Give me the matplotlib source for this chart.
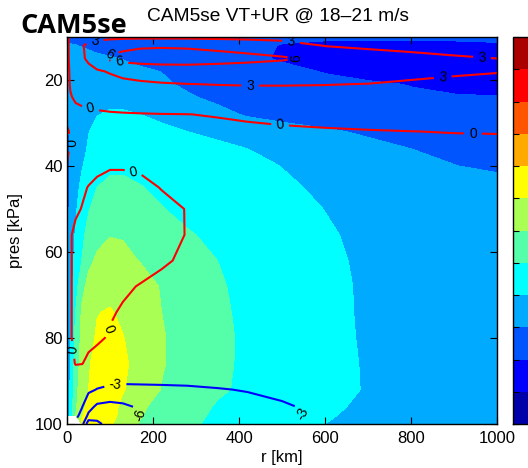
import numpy as np
import matplotlib
matplotlib.use("Agg")
import matplotlib.pyplot as plt
from matplotlib.colors import ListedColormap, BoundaryNorm
from matplotlib.cm import ScalarMappable

# Radius (km) and pressure (kPa) grid of the composite
r_km = [0, 8, 20, 35, 50, 70, 100, 130, 170, 220, 280, 350, 420, 500, 600, 700, 800, 900, 1000]
pres_kpa = [10, 12, 15, 18, 21, 24, 28, 32, 36, 40, 45, 50, 56, 62, 68, 74, 80, 86, 92, 96, 98, 100]

nan = np.nan

# Tangential wind VT (m/s), one row per pressure level
vt_ms = [
    [2.6, 2.6, 2.5, 2.4, 2.3, 2.1, 1.9, 1.6, 1.3, 1.0, 0.7, 0.5, 0.35, 0.2, 0.4, 0.5, 0.5, 0.5, 0.5],
    [2.8, 3.1, 3.05, 2.9, 2.7, 2.4, 2.1, 1.8, 1.5, 1.1, 0.8, 0.5, 0.3, -0.05, -0.5, -0.7, -0.8, -0.6, -0.3],
    [2.8, 3.3, 3.6, 3.7, 3.6, 3.4, 3.2, 2.9, 2.4, 1.9, 1.4, 0.9, 0.4, -0.2, -0.8, -1.2, -1.4, -1.5, -1.5],
    [2.8, 3.3, 3.8, 4.1, 4.2, 4.2, 4.1, 3.8, 3.4, 2.95, 2.4, 1.7, 1.0, 0.5, -0.1, -0.5, -0.8, -1.0, -1.1],
    [2.8, 3.3, 3.8, 4.2, 4.5, 4.6, 4.6, 4.4, 4.0, 3.4, 2.6, 1.8, 1.2, 0.8, 0.5, 0.2, -0.05, -0.3, -0.5],
    [2.8, 3.3, 3.6, 3.9, 4.5, 5.0, 5.3, 5.2, 4.7, 3.9, 3.3, 2.4, 1.6, 1.0, 0.6, 0.35, 0.2, 0.1, 0.05],
    [2.7, 3.4, 3.8, 4.5, 5.3, 5.9, 6.3, 6.3, 6.0, 5.4, 4.7, 3.8, 2.7, 2.0, 1.4, 1.2, 1.0, 0.8, 0.6],
    [2.6, 3.3, 3.8, 4.9, 5.9, 6.8, 7.3, 7.3, 7.0, 6.6, 6.0, 5.5, 4.9, 4.2, 3.4, 2.6, 2.1, 1.8, 1.5],
    [2.5, 3.3, 4.1, 5.2, 6.3, 7.3, 8.0, 8.1, 7.8, 7.4, 6.9, 6.5, 6.0, 5.4, 4.6, 3.8, 3.0, 2.5, 2.1],
    [2.4, 3.2, 4.5, 5.8, 7.0, 8.0, 8.6, 8.7, 8.4, 8.0, 7.5, 7.1, 6.7, 5.95, 5.2, 4.4, 3.6, 3.05, 2.6],
    [2.3, 3.3, 5.0, 6.8, 8.1, 9.0, 9.5, 9.4, 9.1, 8.6, 8.0, 7.6, 7.2, 6.4, 5.6, 5.0, 4.6, 4.3, 3.9],
    [2.2, 3.6, 5.6, 7.5, 8.8, 10.1, 10.8, 10.7, 10.2, 9.1, 8.4, 7.9, 7.5, 7.0, 5.95, 5.1, 4.7, 4.4, 4.0],
    [2.2, 4.0, 6.3, 8.3, 10.0, 11.3, 11.9, 11.8, 11.3, 10.5, 9.2, 8.5, 7.9, 7.3, 6.35, 5.3, 4.9, 4.5, 4.1],
    [2.3, 4.4, 6.9, 9.1, 11.4, 12.4, 12.9, 12.7, 11.9, 11.0, 10.1, 9.0, 8.0, 7.5, 6.7, 5.4, 5.0, 4.6, 4.2],
    [2.5, 4.8, 7.8, 11.2, 12.8, 13.8, 14.2, 14.0, 13.2, 11.8, 10.6, 9.4, 8.1, 7.6, 6.9, 5.5, 5.0, 4.6, 4.2],
    [2.7, 5.2, 9.0, 12.5, 13.8, 14.9, 15.2, 14.5, 13.4, 12.0, 10.9, 9.6, 8.3, 7.8, 7.0, 5.5, 5.0, 4.6, 4.2],
    [3.2, 5.5, 10.0, 12.8, 14.2, 15.3, 15.8, 15.1, 13.9, 12.2, 11.0, 9.8, 8.4, 8.0, 7.0, 5.6, 5.1, 4.7, 4.3],
    [3.5, 6.0, 10.5, 13.2, 14.7, 16.0, 16.4, 15.5, 14.0, 12.2, 10.9, 9.6, 8.5, 8.0, 7.1, 5.7, 5.1, 4.7, 4.3],
    [4.0, 6.5, 11.0, 13.8, 15.0, 16.6, 16.5, 15.2, 13.6, 11.9, 10.6, 9.3, 8.6, 7.8, 6.9, 5.8, 5.1, 4.7, 4.3],
    [4.0, 7.0, 11.5, 14.2, 15.8, 16.8, 16.2, 14.3, 12.5, 11.0, 9.9, 8.8, 8.0, 7.3, 6.4, 5.6, 5.0, 4.6, 4.2],
    [4.0, 7.2, 12.0, 14.8, 16.0, 16.8, 16.0, 14.1, 12.2, 10.8, 9.7, 8.6, 7.8, 7.1, 6.2, 5.5, 4.9, 4.5, 4.1],
    [nan, nan, nan, 15.5, 16.5, 16.8, 15.3, 13.8, 11.8, 10.6, 9.5, 8.4, 7.6, 6.9, 6.0, 5.3, 4.8, 4.4, 4.0],
]

# Radial wind UR (m/s), same grid
ur_ms = [
    [-0.5, 0.5, 1.2, 1.8, 2.0, 2.2, 2.3, 2.4, 2.4, 2.4, 2.4, 2.3, 2.2, 2.0, 1.8, 1.6, 1.4, 1.2, 1.1],
    [-0.5, 0.6, 1.6, 2.8, 3.6, 4.2, 4.8, 5.2, 5.6, 5.7, 5.6, 5.3, 4.9, 4.3, 2.9, 2.4, 2.0, 1.7, 1.5],
    [-0.5, 0.5, 1.5, 2.6, 3.5, 4.8, 6.5, 7.0, 7.3, 7.4, 7.3, 7.0, 6.7, 6.3, 5.4, 4.6, 4.0, 3.4, 3.0],
    [-0.6, 0.3, 1.0, 1.6, 2.2, 2.7, 3.2, 3.7, 4.1, 4.4, 4.6, 4.6, 4.5, 4.4, 4.2, 4.0, 3.6, 3.3, 3.1],
    [-0.7, 0.2, 0.7, 1.1, 1.4, 1.8, 2.1, 2.4, 2.6, 2.8, 2.95, 3.05, 3.1, 3.1, 3.05, 2.95, 2.7, 2.5, 2.3],
    [-0.8, -0.15, 0.3, 0.55, 0.7, 0.9, 1.1, 1.3, 1.5, 1.7, 1.9, 2.0, 2.1, 2.15, 2.2, 2.2, 2.1, 2.0, 1.9],
    [-0.9, -0.8, -0.6, -0.5, -0.4, -0.3, -0.2, -0.15, -0.1, -0.05, -0.02, 0.1, 0.3, 0.5, 0.7, 0.85, 0.95, 1.0, 1.0],
    [0.4, -0.3, -0.9, -1.0, -1.0, -0.9, -0.8, -0.7, -0.6, -0.55, -0.5, -0.45, -0.4, -0.3, -0.2, -0.1, -0.02, 0.05, 0.08],
    [0.4, -0.3, -1.0, -1.2, -1.2, -1.1, -1.0, -0.9, -0.8, -0.75, -0.7, -0.65, -0.6, -0.55, -0.5, -0.5, -0.5, -0.5, -0.5],
    [-0.05, -0.4, -0.8, -0.7, -0.5, -0.3, -0.1, -0.1, -0.2, -0.4, -0.6, -0.7, -0.7, -0.65, -0.6, -0.6, -0.6, -0.6, -0.6],
    [-0.5, -0.6, -0.5, -0.2, 0.05, 0.3, 0.45, 0.45, 0.35, -0.05, -0.4, -0.6, -0.7, -0.7, -0.65, -0.6, -0.6, -0.6, -0.6],
    [-0.5, -0.5, -0.2, 0.05, 0.3, 0.5, 0.6, 0.6, 0.5, 0.35, -0.05, -0.5, -0.6, -0.6, -0.6, -0.6, -0.6, -0.6, -0.6],
    [-0.5, -0.1, 0.3, 0.5, 0.6, 0.7, 0.7, 0.7, 0.6, 0.4, -0.05, -0.5, -0.6, -0.6, -0.6, -0.6, -0.6, -0.6, -0.6],
    [-0.5, -0.1, 0.3, 0.5, 0.6, 0.6, 0.6, 0.5, 0.4, 0.15, -0.2, -0.5, -0.6, -0.6, -0.6, -0.6, -0.6, -0.6, -0.6],
    [-0.5, -0.1, 0.3, 0.4, 0.45, 0.4, 0.3, 0.15, -0.05, -0.3, -0.5, -0.6, -0.6, -0.6, -0.6, -0.6, -0.6, -0.6, -0.6],
    [-0.5, -0.1, 0.3, 0.35, 0.35, 0.3, 0.1, -0.1, -0.3, -0.5, -0.6, -0.6, -0.6, -0.6, -0.6, -0.6, -0.6, -0.6, -0.6],
    [-0.5, -0.1, 0.3, 0.3, 0.25, 0.15, -0.1, -0.3, -0.5, -0.6, -0.7, -0.7, -0.7, -0.7, -0.7, -0.7, -0.7, -0.7, -0.7],
    [-0.6, -0.3, 0.05, 0.02, -0.2, -0.4, -0.6, -0.8, -1.0, -1.2, -1.3, -1.4, -1.5, -1.6, -1.6, -1.6, -1.5, -1.5, -1.4],
    [-1.0, -1.0, -1.2, -1.8, -2.5, -3.1, -3.5, -3.6, -3.5, -3.4, -3.3, -3.1, -2.9, -2.6, -2.2, -1.9, -1.7, -1.6, -1.5],
    [-1.5, -1.5, -2.0, -2.9, -5.0, -6.6, -7.0, -6.6, -5.6, -4.8, -4.3, -3.9, -3.6, -3.2, -2.6, -2.2, -1.9, -1.7, -1.6],
    [-1.8, -1.8, -2.3, -3.8, -6.5, -8.0, -7.6, -7.0, -6.0, -5.0, -4.4, -4.0, -3.7, -3.3, -2.7, -2.3, -2.0, -1.8, -1.7],
    [nan, nan, nan, -5.0, -11.0, -9.6, -8.0, -7.2, -5.9, -5.2, -4.5, -4.0, -3.7, -3.2, -2.8, -2.4, -2.1, -1.9, -1.8],
]

vt_levels = [-6, -3, 0, 3, 6, 9, 12, 15, 18, 21, 24, 27, 30]
ur_pos_levels = [0, 3, 6]
ur_neg_levels = [-9, -6, -3]

x_ticks = [0, 200, 400, 600, 800, 1000]
y_ticks = [20, 40, 60, 80, 100]

# 12-colour jet palette
jet12 = ["#0000AA", "#0000FF", "#0055FF", "#00AAFF", "#00FFFF", "#55FFAA",
         "#AAFF55", "#FFFF00", "#FFAA00", "#FF5500", "#FF0000", "#AA0000"]

pos_labels = [(65, 11.2), (520, 12.0), (965, 14.6), (426, 21.2), (874, 19.6),
              (93, 12.8), (121, 16.3), (540, 15.3),
              (55, 26.5), (496, 30.0), (944, 32.3), (6, 34.6),
              (154, 41.6), (100, 78.0), (12, 82.8)]
neg_labels = [(112, 90.5), (550, 97.5), (185, 97.0)]

plt.rcParams['font.family'] = ['Liberation Sans', 'DejaVu Sans']

W, H = 528, 468
fig = plt.figure(figsize=(W / 100, H / 100), dpi=100)
ax = fig.add_axes([67 / W, 1 - 424 / H, 430 / W, 387 / H])

cmap = ListedColormap(jet12)
norm = BoundaryNorm(vt_levels, cmap.N)

R, P = np.meshgrid(np.array(r_km, float), np.array(pres_kpa, float))
vt = np.ma.masked_invalid(np.array(vt_ms, float))
ur = np.ma.masked_invalid(np.array(ur_ms, float))

ax.contourf(R, P, vt, levels=vt_levels, cmap=cmap, norm=norm)
cs_pos = ax.contour(R, P, ur, levels=ur_pos_levels, colors="#FF0000",
                    linewidths=1.5, linestyles="solid")
cs_neg = ax.contour(R, P, ur, levels=ur_neg_levels, colors="#0000FF",
                    linewidths=1.5, linestyles="solid")
ax.clabel(cs_pos, fmt="%d", fontsize=10, colors="k", inline=True, manual=pos_labels)
ax.clabel(cs_neg, fmt="%d", fontsize=10, colors="k", inline=True, manual=neg_labels)

ax.set_xlim(0, 1000)
ax.set_ylim(100, 10)
ax.set_xticks(x_ticks)
ax.set_yticks(y_ticks)
ax.tick_params(direction="in", top=True, right=True, length=5, width=0.8,
               labelsize=12, color="k")
ax.tick_params(axis="x", pad=5)
ax.tick_params(axis="y", pad=3)
for s in ax.spines.values():
    s.set_linewidth(1.0)
ax.set_xlabel("r [km]", fontsize=12, labelpad=3)
ax.set_ylabel("pres [kPa]", fontsize=12, labelpad=9)

# Colour bar (partly beyond the right figure edge)
cax = fig.add_axes([513 / W, 1 - 424 / H, 30 / W, 387 / H])
cb = fig.colorbar(ScalarMappable(norm=norm, cmap=cmap), cax=cax, ticks=vt_levels)
cb.outline.set_linewidth(1.0)
cax.tick_params(direction="in", left=True, right=False, labelleft=False,
                labelright=False, length=4, width=0.8)

fig.text(278 / W, 1 - 21 / H, "CAM5se VT+UR @ 18\u201321 m/s", ha="center",
         va="baseline", fontsize=13.8)
fig.text(20 / W, 1 - 33 / H, "CAM5se", ha="left", va="baseline",
         fontsize=19.5, fontweight="bold", family=["Open Sans", "DejaVu Sans"])

fig.savefig("out.png", dpi=100)
